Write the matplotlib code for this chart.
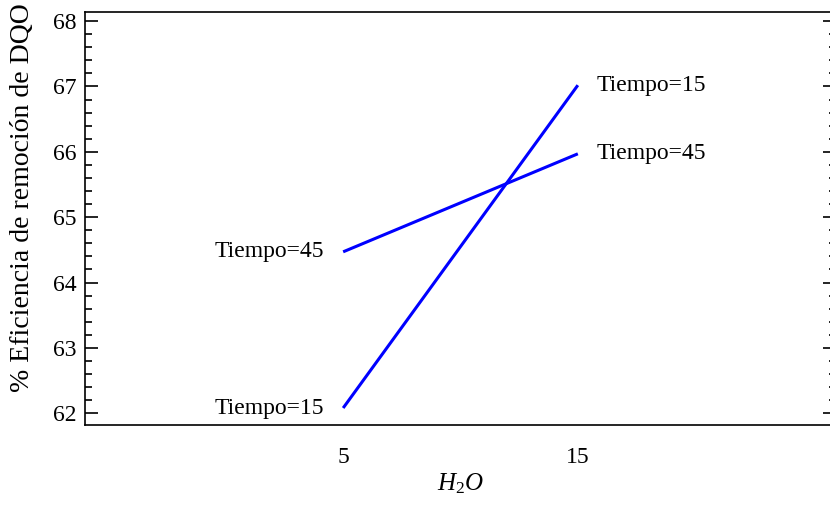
import matplotlib.pyplot as plt
from matplotlib.ticker import MultipleLocator, AutoMinorLocator

plt.rcParams['font.family'] = ['Liberation Serif', 'DejaVu Serif']
plt.rcParams['mathtext.fontset'] = 'custom'
plt.rcParams['mathtext.it'] = 'Liberation Serif:italic'
plt.rcParams['mathtext.rm'] = 'Liberation Serif'

# Interaction plot data
h2o = [5, 15]
tiempo_15 = [62.08, 67.02]
tiempo_45 = [64.47, 65.97]
series = [('Tiempo=15', tiempo_15), ('Tiempo=45', tiempo_45)]

fig = plt.figure(figsize=(8.3, 5.07), dpi=100)
# right spine sits just past the picture edge
ax = fig.add_axes([85 / 830, 1 - 425 / 507, 751 / 830, 413 / 507])

for name, vals in series:
    ax.plot(h2o, vals, color='#0000ff', lw=2.2, solid_capstyle='butt')
    ax.annotate(name, (h2o[0], vals[0]), xytext=(-14, 0), textcoords='offset points',
                ha='right', va='center', fontsize=17)
    ax.annotate(name, (h2o[-1], vals[-1]), xytext=(13.5, 0), textcoords='offset points',
                ha='left', va='center', fontsize=17)

ax.set_xlim(-6, 26)
ax.set_ylim(61.82, 68.14)
ax.set_xticks(h2o)
ax.yaxis.set_major_locator(MultipleLocator(1))
ax.yaxis.set_minor_locator(AutoMinorLocator(5))

ax.tick_params(axis='x', length=0, pad=16, labelsize=17)
ax.tick_params(axis='y', which='major', direction='in', length=9.5, width=1.2,
               right=True, pad=6, labelsize=17)
ax.tick_params(axis='y', which='minor', direction='in', length=5, width=1.2,
               right=True)
for s in ax.spines.values():
    s.set_linewidth(1.2)

ax.set_xlabel('$H_2O$', fontsize=18, labelpad=2)
ax.set_ylabel('% Eficiencia de remoción de DQO', fontsize=20)
ax.yaxis.set_label_coords(-0.066, 0.55)

fig.savefig('out.png', dpi=100)
